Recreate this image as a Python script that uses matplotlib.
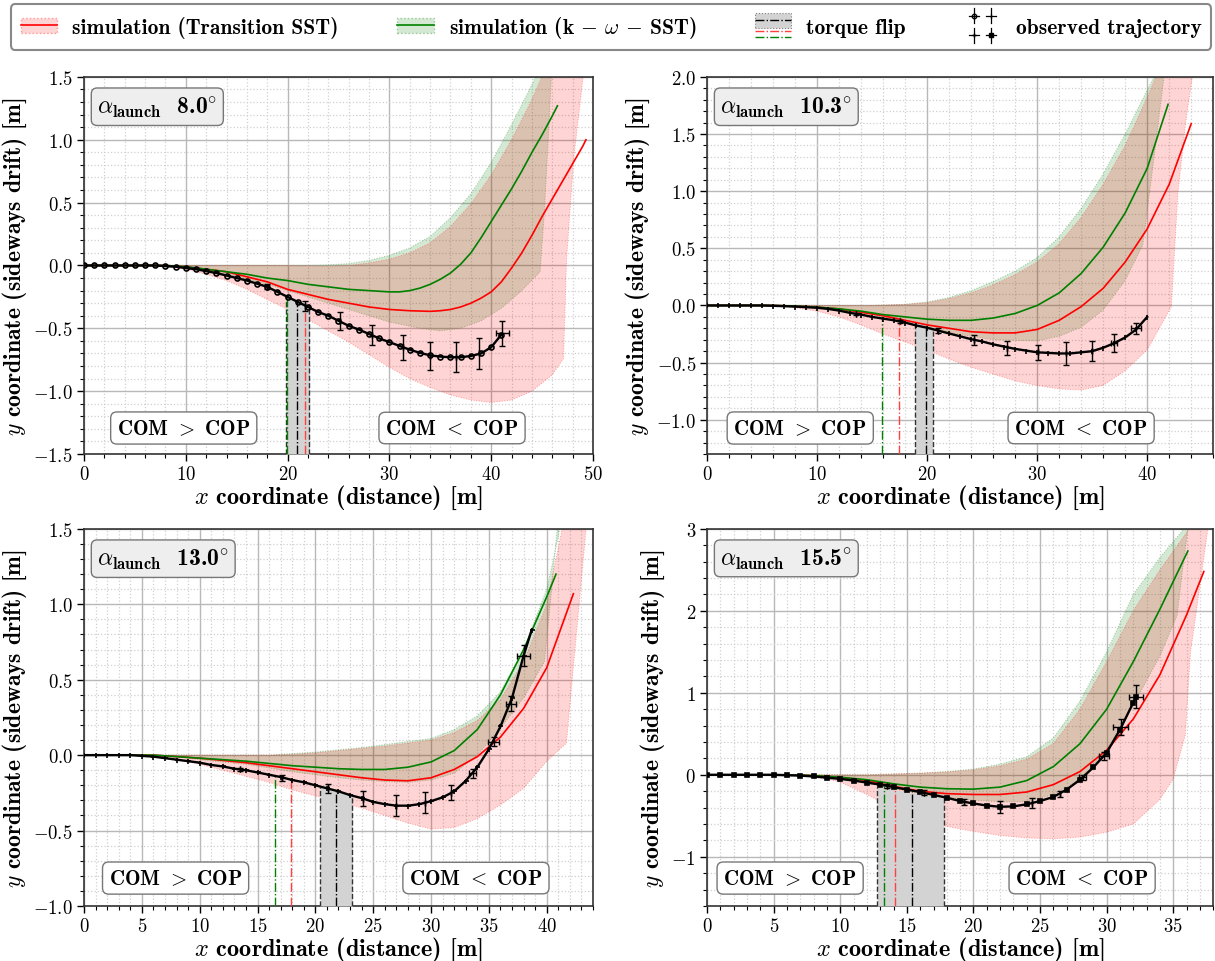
import numpy as np
import matplotlib
matplotlib.use('Agg')
import matplotlib.pyplot as plt
from matplotlib.ticker import MultipleLocator
from matplotlib.patches import Patch, Rectangle
from matplotlib.lines import Line2D
from matplotlib.legend_handler import HandlerBase, HandlerTuple

plt.rcParams['font.family'] = 'cmr10'
plt.rcParams['mathtext.fontset'] = 'cm'
plt.rcParams['axes.formatter.use_mathtext'] = True
plt.rcParams['axes.unicode_minus'] = True

# ---------------- data ----------------
launch = ['8.0', '10.3', '13.0', '15.5']

# panel 1 (8.0 deg)
p1_red_x = [0, 8, 10, 12, 14, 16, 18, 20, 22, 24, 26, 28, 30, 32, 34, 35, 36, 37, 38, 39, 40, 41, 42, 43, 44, 45, 46, 47, 48, 49, 49.3]
p1_red_y = [0, 0, -0.01, -0.03, -0.05, -0.09, -0.13, -0.19, -0.23, -0.27, -0.30, -0.33, -0.35, -0.36, -0.365, -0.36, -0.35, -0.33, -0.30, -0.26, -0.21, -0.13, -0.02, 0.10, 0.24, 0.39, 0.53, 0.67, 0.81, 0.95, 1.0]
p1_grn_x = [0, 8, 10, 12, 14, 16, 18, 20, 22, 24, 26, 28, 30, 31, 32, 33, 34, 35, 36, 37, 38, 39, 40, 41, 42, 43, 44, 45, 46, 46.5]
p1_grn_y = [0, 0, -0.01, -0.03, -0.05, -0.07, -0.10, -0.12, -0.15, -0.17, -0.19, -0.20, -0.21, -0.21, -0.20, -0.18, -0.15, -0.11, -0.06, 0.01, 0.10, 0.22, 0.35, 0.48, 0.61, 0.75, 0.90, 1.04, 1.19, 1.27]
p1_rlo_x = [0, 5, 8, 10, 12, 14, 16, 18, 20, 22, 24, 26, 28, 30, 32, 34, 36, 38, 40, 42, 44, 46, 47.1, 47.4, 48.1, 49.0, 49.5]
p1_rlo_y = [0, 0, -0.01, -0.03, -0.07, -0.12, -0.19, -0.27, -0.35, -0.43, -0.52, -0.61, -0.71, -0.81, -0.90, -0.97, -1.03, -1.07, -1.09, -1.07, -1.00, -0.87, -0.74, 0.05, 0.85, 1.48, 1.9]
p1_rup_x = [0, 20, 24, 26, 28, 30, 32, 34, 36, 38, 40, 42, 44, 45.5]
p1_rup_y = [0, 0, -0.005, 0.0, 0.02, 0.05, 0.10, 0.18, 0.31, 0.49, 0.72, 1.0, 1.32, 1.6]
p1_glo_x = [0, 8, 10, 14, 18, 22, 26, 30, 33, 35, 37, 39, 41, 43, 44.8, 45.2, 45.6, 45.9, 46.1]
p1_glo_y = [0, 0, -0.02, -0.07, -0.15, -0.25, -0.35, -0.45, -0.50, -0.52, -0.50, -0.44, -0.34, -0.2, -0.05, 0.4, 1.0, 1.5, 1.9]
p1_gup_x = [0, 20, 22, 24, 26, 28, 30, 32, 34, 36, 38, 40, 42, 44, 45]
p1_gup_y = [0, 0, 0, 0.005, 0.015, 0.04, 0.08, 0.14, 0.23, 0.38, 0.57, 0.82, 1.12, 1.44, 1.62]
p1_obs_x = np.arange(0, 42)
p1_obs_y = [0, 0, 0, 0, 0, 0, 0, 0, -0.005, -0.01, -0.02, -0.03, -0.045, -0.06, -0.08, -0.10, -0.12, -0.145,
            -0.17, -0.21, -0.25, -0.29, -0.33, -0.37, -0.40, -0.44, -0.48, -0.51, -0.545, -0.58, -0.61, -0.64,
            -0.67, -0.695, -0.715, -0.725, -0.73, -0.73, -0.72, -0.70, -0.65, -0.55]
p1_err_x = [18, 21.7, 25.1, 28.3, 31.3, 34.0, 36.5, 38.8, 41.1]
p1_err_y = [-0.17, -0.32, -0.44, -0.55, -0.65, -0.72, -0.73, -0.70, -0.54]
p1_err_dy = [0.02, 0.04, 0.07, 0.08, 0.1, 0.11, 0.12, 0.12, 0.1]
p1_err_dx = [0, 0, 0, 0, 0, 0, 0, 0, 0.67]
p1_flip_span = [19.85, 22.15]
p1_flip_top = [-0.24, -0.31]
p1_flip_lines = [20.95, 21.7, 19.9]      # black, red, green
p1_flip_ltop = [-0.28, -0.30, -0.24]

# panel 2 (10.3 deg)
p2_red_x = [0, 6, 8, 10, 12, 14, 16, 18, 20, 22, 24, 26, 28, 30, 32, 34, 36, 38, 40, 42, 44]
p2_red_y = [0, 0, -0.005, -0.015, -0.03, -0.06, -0.09, -0.13, -0.17, -0.20, -0.23, -0.24, -0.24, -0.21, -0.13, -0.01, 0.15, 0.38, 0.67, 1.06, 1.59]
p2_grn_x = [0, 6, 8, 10, 12, 14, 16, 18, 20, 22, 24, 26, 28, 30, 32, 34, 36, 38, 40, 41.9]
p2_grn_y = [0, 0, -0.005, -0.015, -0.03, -0.05, -0.08, -0.10, -0.12, -0.13, -0.13, -0.11, -0.07, 0.0, 0.11, 0.28, 0.51, 0.81, 1.20, 1.76]
p2_rlo_x = [0, 6, 8, 10, 12, 14, 16, 18, 20, 22, 24, 26, 28, 30, 32, 34, 36, 38, 40, 42.2, 42.5, 42.8, 43.5, 44.1, 44.4]
p2_rlo_y = [0, 0, -0.02, -0.05, -0.1, -0.17, -0.25, -0.32, -0.39, -0.47, -0.54, -0.60, -0.66, -0.70, -0.73, -0.74, -0.70, -0.57, -0.39, -0.01, 0.5, 0.99, 1.6, 2.0, 2.3]
p2_rup_x = [0, 15, 18, 20, 22, 24, 26, 28, 30, 32, 34, 36, 38, 40, 41.2]
p2_rup_y = [0, 0, 0.01, 0.025, 0.06, 0.11, 0.18, 0.27, 0.38, 0.54, 0.77, 1.06, 1.4, 1.82, 2.1]
p2_glo_x = [0, 6, 10, 14, 18, 22, 26, 30, 32, 34, 36, 38, 39.6, 40.5, 41.5, 41.8]
p2_glo_y = [0, 0, -0.02, -0.06, -0.14, -0.24, -0.30, -0.31, -0.27, -0.19, -0.04, 0.22, 0.53, 1.2, 1.98, 2.2]
p2_gup_x = [0, 15, 18, 20, 22, 24, 26, 28, 30, 32, 34, 36, 38, 40.5, 41]
p2_gup_y = [0, 0, 0.01, 0.03, 0.07, 0.13, 0.21, 0.30, 0.42, 0.60, 0.85, 1.15, 1.5, 1.98, 2.1]
p2_obs_x = np.arange(0, 41)
p2_obs_y = [0, 0, 0, 0, 0, 0, -0.003, -0.006, -0.01, -0.015, -0.02, -0.03, -0.045, -0.065, -0.08, -0.10,
            -0.115, -0.13, -0.15, -0.175, -0.195, -0.22, -0.245, -0.27, -0.295, -0.315, -0.34, -0.36, -0.38,
            -0.395, -0.41, -0.415, -0.42, -0.42, -0.41, -0.40, -0.37, -0.33, -0.28, -0.21, -0.10]
p2_err_x = [13.5, 17.5, 21.0, 24.3, 27.3, 30.1, 32.6, 35.0, 37.0, 39.0]
p2_err_y = [-0.075, -0.14, -0.22, -0.30, -0.37, -0.41, -0.42, -0.40, -0.33, -0.20]
p2_err_dy = [0.01, 0.015, 0.02, 0.045, 0.06, 0.065, 0.1, 0.09, 0.08, 0.05]
p2_err_dx = [0, 0, 0, 0, 0, 0, 0, 0, 0.25, 0.45]
p2_flip_span = [18.9, 20.5]
p2_flip_top = [-0.15, -0.20]
p2_flip_lines = [19.9, 17.4, 15.9]
p2_flip_ltop = [-0.19, -0.135, -0.11]

# panel 3 (13.0 deg)
p3_red_x = [0, 6, 8, 10, 12, 14, 16, 18, 20, 22, 24, 26, 28, 30, 32, 34, 36, 38, 40, 42.3]
p3_red_y = [0, 0, -0.01, -0.02, -0.035, -0.05, -0.07, -0.09, -0.11, -0.13, -0.15, -0.165, -0.17, -0.15, -0.095, -0.01, 0.12, 0.31, 0.58, 1.07]
p3_grn_x = [0, 6, 8, 10, 12, 14, 16, 18, 20, 22, 24, 26, 28, 30, 32, 34, 36, 38, 40, 40.8]
p3_grn_y = [0, 0, -0.01, -0.02, -0.03, -0.04, -0.055, -0.07, -0.08, -0.09, -0.095, -0.095, -0.08, -0.045, 0.03, 0.17, 0.40, 0.70, 1.05, 1.2]
p3_rlo_x = [0, 4, 6, 8, 10, 12, 14, 16, 18, 20, 22, 24, 26, 28, 30, 32, 34, 36, 38, 40, 41.7, 42.2, 42.8, 43.4, 43.7]
p3_rlo_y = [0, 0, -0.01, -0.03, -0.06, -0.10, -0.14, -0.18, -0.23, -0.27, -0.31, -0.35, -0.40, -0.45, -0.49, -0.48, -0.42, -0.33, -0.22, -0.04, 0.08, 0.5, 1.0, 1.5, 1.8]
p3_rup_x = [0, 16, 18, 20, 22, 24, 26, 28, 30, 32, 34, 36, 38, 40, 41.2, 41.8]
p3_rup_y = [0, 0, 0.005, 0.015, 0.03, 0.045, 0.06, 0.08, 0.1, 0.15, 0.23, 0.37, 0.62, 1.0, 1.45, 1.7]
p3_glo_x = [0, 6, 8, 10, 12, 14, 16, 18, 20, 22, 24, 26, 28, 30, 32, 34, 36, 38, 39.8, 40.3, 40.9, 41.2]
p3_glo_y = [0, 0, -0.01, -0.03, -0.045, -0.06, -0.085, -0.11, -0.13, -0.15, -0.165, -0.175, -0.18, -0.165, -0.12, 0.0, 0.18, 0.38, 0.62, 1.0, 1.5, 1.8]
p3_gup_x = [0, 16, 18, 20, 22, 24, 26, 28, 30, 32, 34, 36, 38, 40, 41, 41.5]
p3_gup_y = [0, 0, 0.01, 0.02, 0.035, 0.05, 0.07, 0.09, 0.11, 0.17, 0.26, 0.42, 0.70, 1.10, 1.45, 1.7]
p3_obs_x = np.append(np.arange(0, 39), 38.7)
p3_obs_y = [0, 0, 0, 0, 0, -0.005, -0.01, -0.02, -0.03, -0.04, -0.05, -0.065, -0.075, -0.09, -0.10, -0.115,
            -0.13, -0.145, -0.165, -0.18, -0.20, -0.22, -0.24, -0.265, -0.285, -0.31, -0.325, -0.335, -0.335,
            -0.325, -0.305, -0.28, -0.24, -0.17, -0.08, 0.04, 0.19, 0.38, 0.66, 0.83]
p3_err_x = [13.5, 17.1, 21.05, 24.1, 27.0, 29.5, 31.7, 33.6, 35.4, 36.9, 38.0]
p3_err_y = [-0.095, -0.15, -0.22, -0.29, -0.335, -0.315, -0.25, -0.12, 0.09, 0.34, 0.66]
p3_err_dy = [0.01, 0.02, 0.03, 0.05, 0.07, 0.07, 0.05, 0.03, 0.03, 0.05, 0.07]
p3_err_dx = [0, 0, 0, 0, 0, 0, 0, 0.3, 0.45, 0.45, 0.55]
p3_flip_span = [20.4, 23.2]
p3_flip_top = [-0.21, -0.27]
p3_flip_lines = [21.8, 17.9, 16.5]
p3_flip_ltop = [-0.235, -0.16, -0.14]

# panel 4 (15.5 deg)
p4_red_x = [0, 6, 8, 10, 12, 14, 16, 18, 20, 22, 24, 26, 28, 30, 32, 34, 36, 37.3]
p4_red_y = [0, 0, -0.01, -0.03, -0.07, -0.14, -0.20, -0.23, -0.24, -0.24, -0.21, -0.12, 0.04, 0.30, 0.68, 1.22, 1.95, 2.48]
p4_grn_x = [0, 6, 8, 10, 12, 14, 16, 18, 20, 22, 24, 26, 28, 30, 32, 34, 36.1]
p4_grn_y = [0, 0, -0.01, -0.03, -0.06, -0.11, -0.15, -0.17, -0.175, -0.15, -0.07, 0.10, 0.38, 0.80, 1.38, 2.02, 2.73]
p4_rlo_x = [0, 5, 7, 9, 10, 12, 14, 16, 18, 20, 22, 24, 26, 28, 30, 32, 34, 35, 35.9, 36.3, 37.0, 37.6, 37.8]
p4_rlo_y = [0, 0, -0.01, -0.05, -0.09, -0.24, -0.41, -0.54, -0.63, -0.69, -0.74, -0.77, -0.78, -0.76, -0.70, -0.60, -0.30, -0.05, 0.48, 1.5, 2.3, 3.0, 3.3]
p4_rup_x = [0, 12, 14, 16, 18, 20, 22, 24, 26, 28, 30, 32, 34, 36.2, 36.6]
p4_rup_y = [0, 0, 0.01, 0.02, 0.035, 0.06, 0.11, 0.19, 0.38, 0.80, 1.38, 2.0, 2.5, 3.0, 3.2]
p4_glo_x = [0, 6, 8, 10, 12, 14, 16, 18, 20, 22, 24, 26, 28, 30, 32, 34, 35.3, 35.7, 36.1, 36.3]
p4_glo_y = [0, 0, -0.01, -0.05, -0.1, -0.17, -0.23, -0.28, -0.31, -0.33, -0.33, -0.24, -0.06, 0.3, 0.85, 1.45, 1.95, 2.5, 3.0, 3.3]
p4_gup_x = [0, 12, 14, 16, 18, 20, 22, 24, 26, 28, 30, 32, 34, 35.8, 36.2]
p4_gup_y = [0, 0, 0.01, 0.02, 0.04, 0.07, 0.13, 0.22, 0.45, 0.9, 1.5, 2.2, 2.65, 3.0, 3.2]
p4_obs_x = np.append(np.arange(0, 33), 32.2)
p4_obs_y = [0, 0, 0, 0, 0, 0, -0.005, -0.01, -0.02, -0.035, -0.05, -0.07, -0.095, -0.12, -0.15, -0.18, -0.21,
            -0.245, -0.28, -0.32, -0.35, -0.375, -0.39, -0.385, -0.36, -0.32, -0.27, -0.18, -0.06, 0.09, 0.27,
            0.55, 0.88, 0.95]
p4_err_x = [13.5, 16.3, 19.3, 22.0, 24.4, 26.5, 28.2, 29.8, 31.05, 32.2]
p4_err_y = [-0.135, -0.22, -0.33, -0.39, -0.345, -0.235, -0.03, 0.23, 0.58, 0.95]
p4_err_dy = [0.02, 0.03, 0.04, 0.07, 0.06, 0.04, 0.03, 0.05, 0.1, 0.14]
p4_err_dx = [0, 0, 0, 0, 0, 0, 0.25, 0.4, 0.55, 0.5]
p4_flip_span = [12.76, 17.77]
p4_flip_top = [-0.15, -0.28]
p4_flip_lines = [15.4, 14.1, 13.3]
p4_flip_ltop = [-0.2, -0.16, -0.14]

# ---------------- layout / style ----------------
xlims = [(0, 50), (0, 46), (0, 44), (0, 38)]
ylims = [(-1.5, 1.5), (-1.3, 2.0), (-1.0, 1.5), (-1.6, 3.0)]
xmaj = [10, 10, 5, 5]
xmin = [2, 2, 1, 1]
ymaj = [0.5, 0.5, 0.5, 1.0]
ymin = [0.1, 0.1, 0.1, 0.2]
obs_markers = ['o', '|', '+', 's']
com_gt_x = [0.196, 0.184, 0.18, 0.164]
com_lt_x = [0.723, 0.739, 0.77, 0.741]
com_y = [0.069, 0.069, 0.074, 0.074]
positions = [[0.0691, 0.527, 0.419, 0.392], [0.582, 0.527, 0.4165, 0.392],
             [0.0691, 0.0572, 0.419, 0.392], [0.582, 0.0572, 0.4165, 0.392]]

panels = []
for k in range(1, 5):
    g = globals()
    panels.append({n: g['p%d_%s' % (k, n)] for n in
                   ['red_x', 'red_y', 'grn_x', 'grn_y', 'rlo_x', 'rlo_y', 'rup_x', 'rup_y',
                    'glo_x', 'glo_y', 'gup_x', 'gup_y', 'obs_x', 'obs_y', 'err_x', 'err_y',
                    'err_dy', 'err_dx', 'flip_span', 'flip_top', 'flip_lines', 'flip_ltop']})

RED_FILL = (1.0, 0.0, 0.0, 0.17)
GRN_FILL = (0.0, 0.5, 0.0, 0.17)
bold = dict(fontfamily='cmb10')


def band(ax, xl, yl, xu, yu, fc, ec):
    ax.fill(np.concatenate([xl, xu[::-1]]), np.concatenate([yl, yu[::-1]]),
            facecolor=fc, edgecolor=ec, lw=0.7, ls=':', zorder=1)


fig = plt.figure(figsize=(12.15, 9.62), dpi=100)

for i, d in enumerate(panels):
    ax = fig.add_axes(positions[i])
    ybot = ylims[i][0]
    band(ax, d['glo_x'], d['glo_y'], d['gup_x'], d['gup_y'], GRN_FILL, (0.3, 0.6, 0.3, 0.5))
    band(ax, d['rlo_x'], d['rlo_y'], d['rup_x'], d['rup_y'], RED_FILL, (1, 0.3, 0.3, 0.5))
    ax.plot(d['red_x'], d['red_y'], color='red', lw=1.2, zorder=2)
    ax.plot(d['grn_x'], d['grn_y'], color='green', lw=1.2, zorder=2)

    # torque flip
    ax.fill_between(d['flip_span'], ybot, d['flip_top'], color='lightgray', lw=0, zorder=3)
    ax.vlines(d['flip_span'], ybot, d['flip_top'], colors='#333333', linestyles='--', lw=1, zorder=3)
    fl, ft = d['flip_lines'], d['flip_ltop']
    ax.vlines(fl[0], ybot, ft[0], colors='black', linestyles='-.', lw=1, zorder=3)
    ax.vlines(fl[1], ybot, ft[1], colors='#ff4040', linestyles='-.', lw=1, zorder=3)
    ax.vlines(fl[2], ybot, ft[2], colors='green', linestyles='-.', lw=1, zorder=3)

    # observed trajectory
    mk = obs_markers[i]
    ax.plot(d['obs_x'], d['obs_y'], color='black', lw=1.7, marker=mk, ms=3.6 if mk != 's' else 2.9,
            mfc='none' if mk == 'o' else 'black', mew=1.2, zorder=4)
    ax.errorbar(d['err_x'], d['err_y'], yerr=d['err_dy'], xerr=d['err_dx'], fmt='none',
                ecolor='black', elinewidth=1, capsize=2, zorder=4)

    ax.set_xlim(*xlims[i])
    ax.set_ylim(*ylims[i])
    ax.xaxis.set_major_locator(MultipleLocator(xmaj[i]))
    ax.xaxis.set_minor_locator(MultipleLocator(xmin[i]))
    ax.yaxis.set_major_locator(MultipleLocator(ymaj[i]))
    ax.yaxis.set_minor_locator(MultipleLocator(ymin[i]))
    ax.set_axisbelow(True)
    ax.grid(which='major', color='#b8b8b8', lw=1.0)
    ax.grid(which='minor', color='#d0d0d0', ls=':', lw=0.9)
    ax.tick_params(which='major', direction='out', length=5, width=1, labelsize=13.5, pad=3)
    ax.tick_params(which='minor', direction='out', length=3, width=0.8)
    for s in ax.spines.values():
        s.set_linewidth(1.2)
        s.set_color('#333333')

    ax.set_xlabel(r'$x$ coordinate (distance) [m]', fontsize=17.5, labelpad=0, **bold)
    ax.set_ylabel(r'$y$ coordinate (sideways drift) [m]', fontsize=17, labelpad=3, **bold)

    ax.text(0.026, 0.955, r'$\alpha_{\mathbf{launch}}$  %s$^{\circ}$' % launch[i],
            transform=ax.transAxes, ha='left', va='top', fontsize=17, zorder=6, **bold,
            bbox=dict(boxstyle='round,pad=0.25', fc='#eeeeee', ec='#777777', lw=1))
    for fx, txt in [(com_gt_x[i], r'COM $>$ COP'), (com_lt_x[i], r'COM $<$ COP')]:
        ax.text(fx, com_y[i], txt, transform=ax.transAxes, ha='center', va='center',
                fontsize=15, zorder=6, **bold,
                bbox=dict(boxstyle='round,pad=0.3', fc='white', ec='#777777', lw=1))


# ---------------- legend ----------------
class FlipHandler(HandlerBase):
    def create_artists(self, legend, orig_handle, xdescent, ydescent, width, height, fontsize, trans):
        x0, y0 = -xdescent, -ydescent
        arts = [Rectangle((x0, y0 + 0.35 * height), width, 1.0 * height, facecolor='lightgray',
                          edgecolor='gray', ls=':', lw=0.8, transform=trans)]
        for frac, c in [(0.85, 'black'), (0.1, '#ff4040'), (-0.3, 'green')]:
            arts.append(Line2D([x0, x0 + width], [y0 + frac * height] * 2, color=c, ls='-.',
                               lw=1, transform=trans))
        return arts


class ObsHandler(HandlerBase):
    def create_artists(self, legend, orig_handle, xdescent, ydescent, width, height, fontsize, trans):
        x0, y0 = -xdescent, -ydescent
        arts = []
        for j, m in enumerate(obs_markers):
            cx = x0 + width * (0.28 + 0.46 * (j % 2))
            cy = y0 + height * (1.15 - 1.3 * (j // 2))
            dx, dy = width * 0.14, height * 0.5
            arts.append(Line2D([cx - dx, cx + dx], [cy, cy], color='black', lw=0.9, transform=trans))
            arts.append(Line2D([cx, cx], [cy - dy, cy + dy], color='black', lw=0.9, transform=trans))
            arts.append(Line2D([cx], [cy], marker=m, ms=3.2, color='black',
                               mfc='none' if m == 'o' else 'black', transform=trans))
        return arts


h_red = (Patch(facecolor=RED_FILL, edgecolor=(1, 0.3, 0.3, 0.5), ls=':'), Line2D([], [], color='red', lw=1.2))
h_grn = (Patch(facecolor=GRN_FILL, edgecolor=(0.3, 0.6, 0.3, 0.5), ls=':'), Line2D([], [], color='green', lw=1.2))
h_flip = Line2D([], [])
h_obs = Line2D([], [])
labels = ['simulation (Transition SST)', r'simulation (k $-$ $\omega$ $-$ SST)', 'torque flip',
          'observed trajectory']
leg = fig.legend([h_red, h_grn, h_flip, h_obs], labels, ncol=4, mode='expand',
                 loc='upper left', bbox_to_anchor=(0.009, 0.9, 0.988, 0.0945), borderaxespad=0,
                 handler_map={tuple: HandlerTuple(ndivide=1), h_flip: FlipHandler(), h_obs: ObsHandler()},
                 prop={'family': 'cmb10', 'size': 15.5}, handlelength=1.7, handletextpad=0.7,
                 fancybox=True, edgecolor='#888888', framealpha=1, borderpad=0.45)
leg.get_frame().set_linewidth(1.5)

fig.savefig('out.png', dpi=100)
